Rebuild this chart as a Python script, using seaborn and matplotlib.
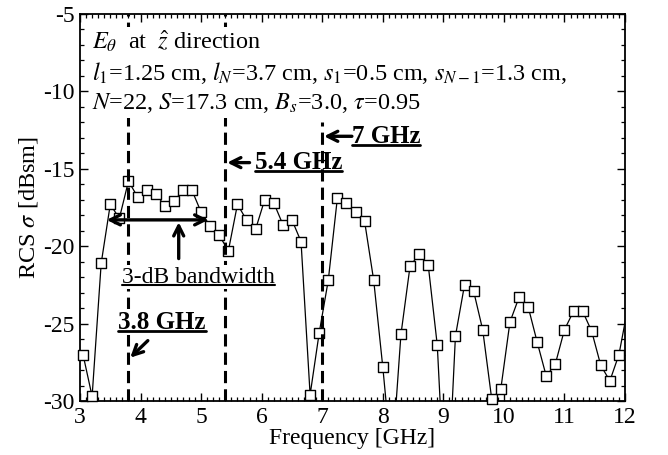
import numpy as np
import pandas as pd
import matplotlib
matplotlib.use("Agg")
import matplotlib.pyplot as plt
import seaborn as sns
from matplotlib.lines import Line2D
from matplotlib.ticker import MultipleLocator

# ---------------- data ----------------
freq_ghz = [3.05, 3.20, 3.35, 3.50, 3.65, 3.80, 3.95, 4.10, 4.25, 4.40,
            4.55, 4.70, 4.85, 5.00, 5.15, 5.30, 5.45, 5.60, 5.75, 5.90,
            6.05, 6.20, 6.35, 6.50, 6.65, 6.80, 6.95, 7.10, 7.25, 7.40,
            7.55, 7.70, 7.85, 8.00, 8.15, 8.30, 8.45, 8.60, 8.75, 8.90,
            9.05, 9.20, 9.35, 9.50, 9.65, 9.80, 9.95, 10.10, 10.25, 10.40,
            10.55, 10.70, 10.85, 11.00, 11.15, 11.30, 11.45, 11.60, 11.75, 11.90,
            12.05]
rcs_dbsm = [-27.0, -29.7, -21.1, -17.3, -18.2, -15.8, -16.8, -16.4, -16.6, -17.4,
            -17.1, -16.4, -16.4, -17.8, -18.7, -19.3, -20.3, -17.3, -18.3, -18.9,
            -17.0, -17.2, -18.6, -18.3, -19.7, -29.6, -25.6, -22.2, -16.9, -17.2,
            -17.8, -18.4, -22.2, -27.8, -34.0, -25.7, -21.3, -20.5, -21.2, -26.4,
            -38.0, -25.8, -22.5, -22.9, -25.4, -29.9, -29.2, -24.9, -23.3, -23.9,
            -26.2, -28.4, -27.6, -25.4, -24.2, -24.2, -25.5, -27.7, -28.7, -27.0,
            -23.9]

marker_freqs = [3.8, 5.4, 7.0]
marker_labels = ["3.8 GHz", "5.4 GHz", "7 GHz"]
x_ticks = [3, 4, 5, 6, 7, 8, 9, 10, 11, 12]
y_ticks = [-30, -25, -20, -15, -10, -5]
info_lines = [r"$E_\theta$  at  $\hat{z}$ direction",
              r"$l_1$=1.25 cm, $l_N$=3.7 cm, $s_1$=0.5 cm, $s_{N-1}$=1.3 cm,",
              r"$N$=22, $S$=17.3 cm, $B_s$=3.0, $\tau$=0.95"]

# ---------------- style ----------------
sns.set_theme(style="ticks")
plt.rcParams["font.family"] = ["Liberation Serif", "DejaVu Serif"]
plt.rcParams["mathtext.fontset"] = "stix"
plt.rcParams["axes.unicode_minus"] = False

fig = plt.figure(figsize=(6.68, 4.55), dpi=100)
ax = fig.add_axes([80 / 668, 1 - 401 / 455, 545 / 668, 387 / 455])

df = pd.DataFrame({"Frequency": freq_ghz, "RCS": rcs_dbsm})
sns.lineplot(data=df, x="Frequency", y="RCS", color="black", lw=0.9,
             ax=ax, zorder=2, sort=False)
shown = df[(df["RCS"] >= -30.3) & (df["Frequency"] <= 12.0)]
sns.scatterplot(data=shown, x="Frequency", y="RCS", marker="s", s=52,
                color="white", edgecolor="black", linewidth=1.0,
                ax=ax, zorder=3, clip_on=False, legend=False)

ax.set_xlim(3, 12)
ax.set_ylim(-30, -5)
ax.set_xticks(x_ticks)
ax.set_yticks(y_ticks)
ax.xaxis.set_minor_locator(MultipleLocator(0.1))
ax.yaxis.set_minor_locator(MultipleLocator(1))
ax.tick_params(which="both", direction="in", top=True, right=True,
               color="black", labelsize=17, labelcolor="black")
ax.tick_params(which="major", length=6, width=1.0, pad=4)
ax.tick_params(which="minor", length=3, width=0.9)
for sp in ax.spines.values():
    sp.set_color("black")
    sp.set_linewidth(1.3)
    sp.set_visible(True)
ax.set_xlabel("Frequency [GHz]", fontsize=17, labelpad=0, color="black")
ax.set_ylabel(r"RCS $\sigma$ [dBsm]", fontsize=17.5, labelpad=2, color="black")

# vertical dashed marker lines
ax.vlines(marker_freqs[:2], -30, -5, colors="black", lw=2.2,
          linestyles=(0, (4, 2)), zorder=4)
ax.vlines(marker_freqs[2:], -30, -12.0, colors="black", lw=2.2,
          linestyles=(0, (4, 2)), zorder=4)

white = dict(facecolor="white", edgecolor="none", pad=1)

# parameter text block
ax.text(0.022, 0.962, "\n".join(info_lines), transform=ax.transAxes,
        ha="left", va="top", fontsize=17.5, linespacing=1.3,
        bbox=dict(facecolor="white", edgecolor="none", pad=2), zorder=6,
        color="black")

# 3-dB bandwidth arrows
arrow_kw = dict(color="black", lw=2.4, shrinkA=0, shrinkB=0, mutation_scale=18)
ax.annotate("", xy=(3.44, -18.3), xytext=(5.12, -18.3),
            arrowprops=dict(arrowstyle="<->", **arrow_kw), zorder=7)
ax.annotate("", xy=(4.63, -18.45), xytext=(4.63, -20.8),
            arrowprops=dict(arrowstyle="->", **arrow_kw), zorder=7)
t_bw = ax.text(3.69, -22.0, "3-dB bandwidth", ha="left", va="center",
               fontsize=17, bbox=white, zorder=6, color="black")

# frequency labels with arrows
t38 = ax.text(3.63, -24.9, marker_labels[0], ha="left", va="center",
              fontsize=18, fontweight="bold", bbox=white, zorder=6, color="black")
ax.annotate("", xy=(3.83, -27.2), xytext=(4.12, -26.1),
            arrowprops=dict(arrowstyle="->", **arrow_kw), zorder=7)
t54 = ax.text(5.89, -14.6, marker_labels[1], ha="left", va="center",
              fontsize=18, fontweight="bold", zorder=6, color="black")
ax.annotate("", xy=(5.43, -14.6), xytext=(5.80, -14.6),
            arrowprops=dict(arrowstyle="->", **arrow_kw), zorder=7)
t7 = ax.text(7.49, -12.9, marker_labels[2], ha="left", va="center",
             fontsize=18, fontweight="bold", zorder=6, color="black")
ax.annotate("", xy=(7.03, -12.9), xytext=(7.49, -12.9),
            arrowprops=dict(arrowstyle="->", **arrow_kw), zorder=7)

# underline labels
fig.canvas.draw()
W, H = fig.bbox.width, fig.bbox.height
for t, lw in [(t_bw, 1.5), (t38, 2.0), (t54, 2.0), (t7, 2.0)]:
    bb = t.get_window_extent()
    y = bb.y0 + 3.0
    fig.add_artist(Line2D([bb.x0 / W, bb.x1 / W], [y / H, y / H],
                          transform=fig.transFigure, color="black", lw=lw,
                          zorder=8))

fig.savefig("out.png", dpi=100)
